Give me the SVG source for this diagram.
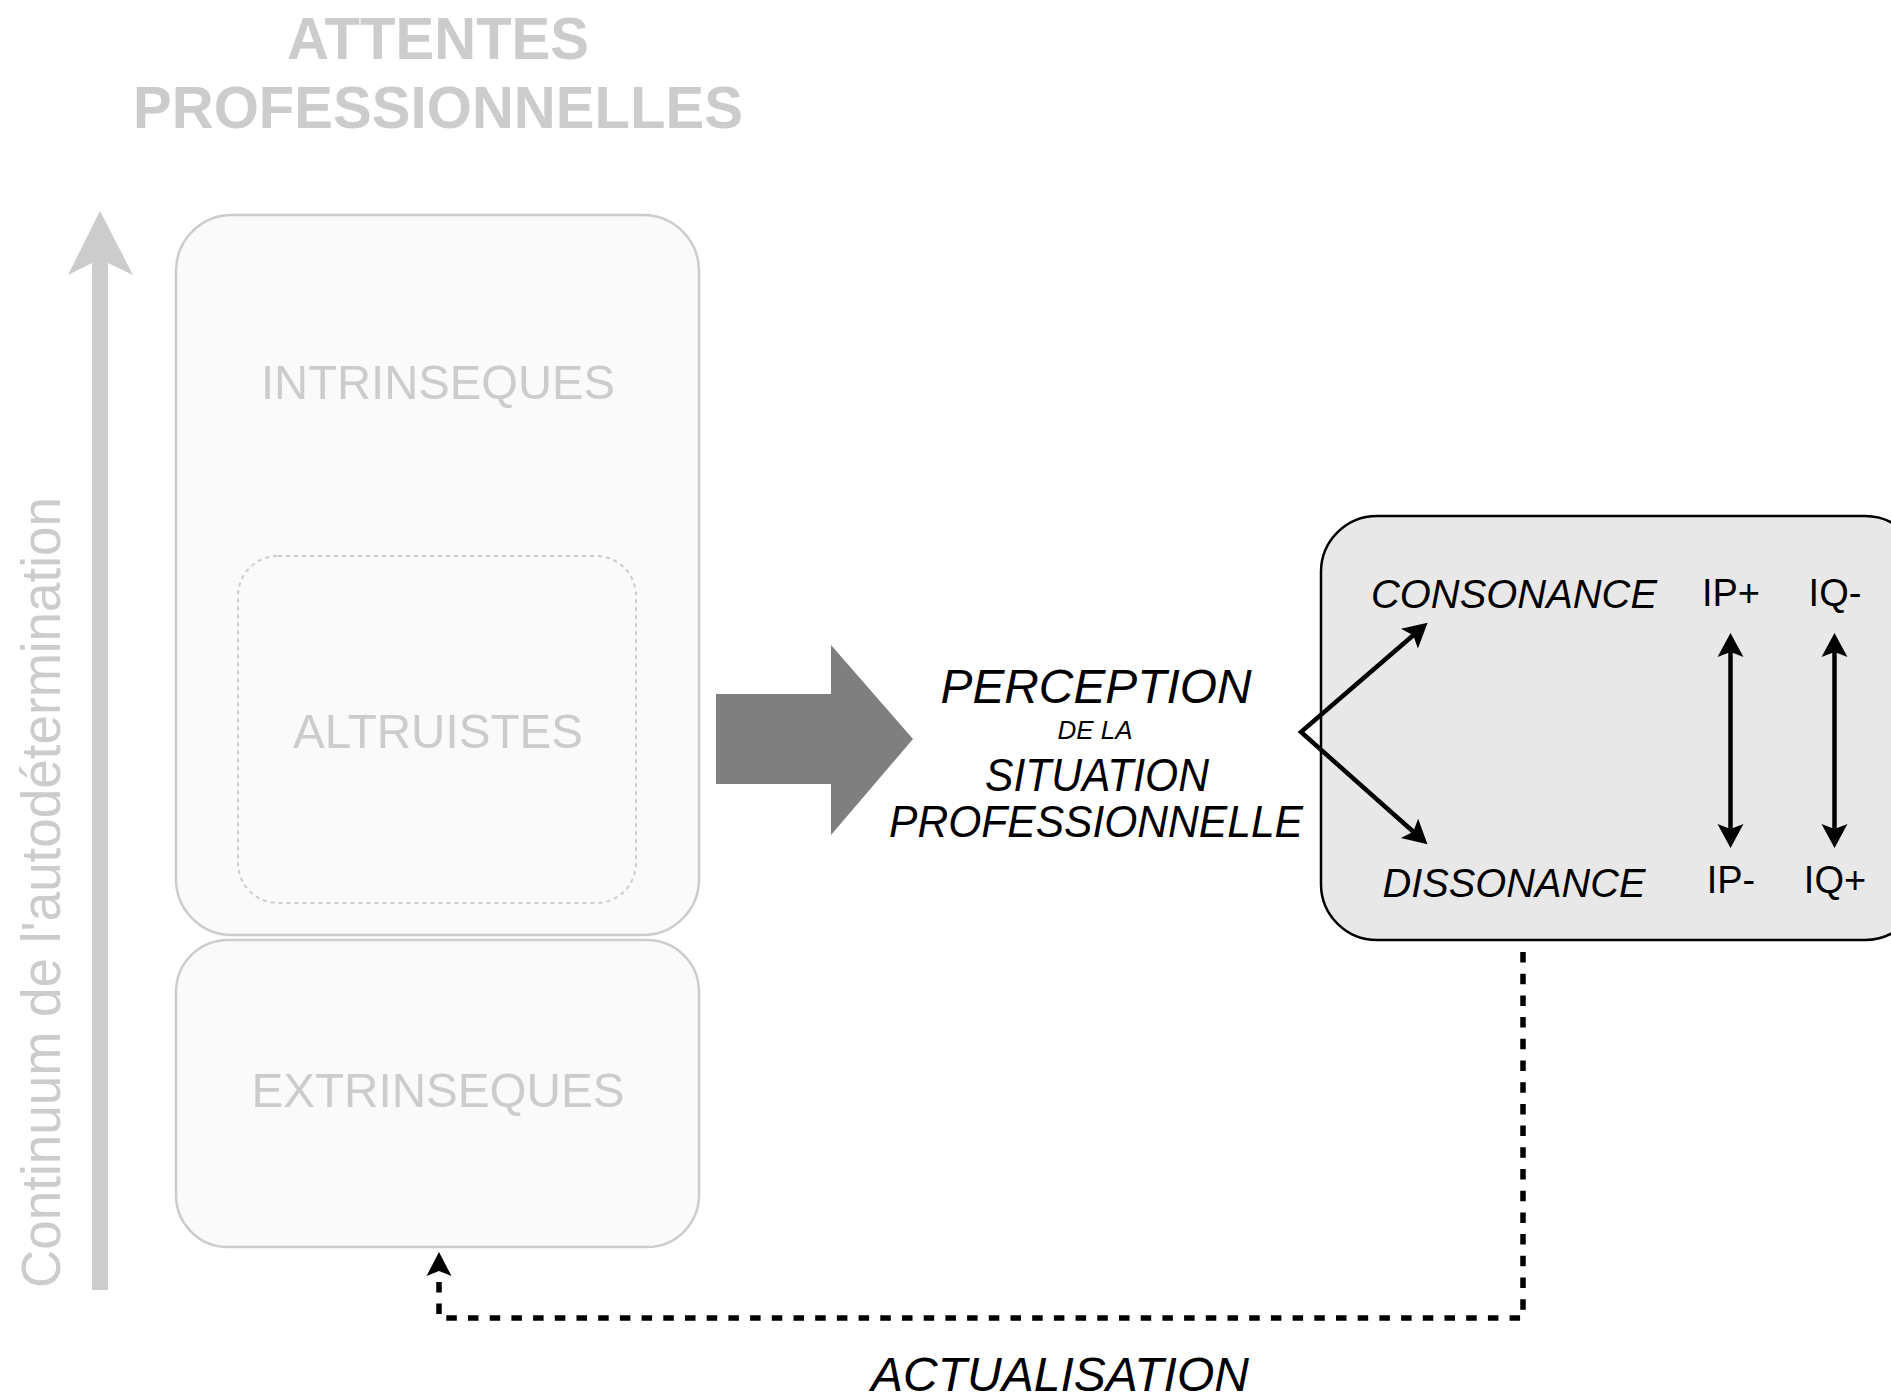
<svg xmlns="http://www.w3.org/2000/svg" width="1891" height="1400" viewBox="0 0 1891 1400">
<style>
text{font-family:"Liberation Sans",Arial,Helvetica,sans-serif}
.ghost{fill:#cccccc}
.title{font-weight:bold;font-size:60px;text-anchor:middle}
.lbl{font-size:49px;text-anchor:middle}
.box{fill:#fafafa;stroke:#cccccc;stroke-width:2.5}
.inner{fill:none;stroke:#cccccc;stroke-width:2;stroke-dasharray:4 4}
.it{font-style:italic;fill:#000;text-anchor:middle}
.rg{fill:#000;text-anchor:middle;font-size:38px}
.conn{fill:none;stroke:#000;stroke-width:4.5}
.dash{fill:none;stroke:#000;stroke-width:5.5;stroke-dasharray:10.5 11.2}
</style>
<defs>
<marker id="ah" markerUnits="userSpaceOnUse" orient="auto-start-reverse" refX="0" refY="0" markerWidth="40" markerHeight="40" viewBox="-20 -20 40 40" overflow="visible">
<path d="M14,0 L-10,-13 L-5,0 L-10,13 Z" fill="#000"/>
</marker>
<marker id="ahd" markerUnits="userSpaceOnUse" orient="auto" refX="0" refY="0" markerWidth="40" markerHeight="40" viewBox="-20 -20 40 40" overflow="visible">
<path d="M14,0 L-10,-12.5 L-5,0 L-10,12.5 Z" fill="#000"/>
</marker>
</defs>

<g id="title">
<text class="title ghost" x="438" y="59" textLength="302" lengthAdjust="spacingAndGlyphs">ATTENTES</text>
<text class="title ghost" x="438" y="128" textLength="610" lengthAdjust="spacingAndGlyphs">PROFESSIONNELLES</text>
</g>

<g id="continuum">
<path d="M100,211 L133,275 L108,263 L108,1290 L92,1290 L92,263 L68,275 Z" fill="#cccccc"/>
<text class="ghost" font-size="55" transform="translate(60,1288) rotate(-90)" textLength="791" lengthAdjust="spacingAndGlyphs">Continuum de l'autodétermination</text>
</g>

<g id="intrinseques">
<rect class="box" x="176" y="215" width="523" height="720" rx="56" ry="56"/>
<text class="lbl ghost" x="438" y="399" textLength="354" lengthAdjust="spacingAndGlyphs">INTRINSEQUES</text>
</g>

<g id="altruistes">
<rect class="inner" x="238" y="556" width="398" height="347" rx="40" ry="40"/>
<text class="lbl ghost" x="438" y="748" textLength="290" lengthAdjust="spacingAndGlyphs">ALTRUISTES</text>
</g>

<g id="extrinseques">
<rect class="box" x="176" y="940" width="523" height="307" rx="52" ry="52"/>
<text class="lbl ghost" x="438" y="1107" textLength="373" lengthAdjust="spacingAndGlyphs">EXTRINSEQUES</text>
</g>

<g id="big-arrow">
<path d="M716,694 L831,694 L831,645 L913,739 L831,835 L831,784 L716,784 Z" fill="#7f7f7f"/>
</g>

<g id="perception">
<text class="it" x="1096" y="703" font-size="48" textLength="311" lengthAdjust="spacingAndGlyphs">PERCEPTION</text>
<text class="it" x="1095" y="739" font-size="25" textLength="75" lengthAdjust="spacingAndGlyphs">DE LA</text>
<text class="it" x="1097" y="791" font-size="47" textLength="224" lengthAdjust="spacingAndGlyphs">SITUATION</text>
<text class="it" x="1096" y="837" font-size="45" textLength="414" lengthAdjust="spacingAndGlyphs">PROFESSIONNELLE</text>
</g>

<g id="resultat">
<rect x="1321" y="516" width="600" height="424" rx="56" ry="56" fill="#e8e8e8" stroke="#000" stroke-width="2.5"/>
<text class="it" x="1514" y="608" font-size="40" textLength="286" lengthAdjust="spacingAndGlyphs">CONSONANCE</text>
<text class="it" x="1514" y="897" font-size="40" textLength="263" lengthAdjust="spacingAndGlyphs">DISSONANCE</text>
<text class="rg" x="1731" y="606">IP+</text>
<text class="rg" x="1835" y="606">IQ-</text>
<text class="rg" x="1731" y="893">IP-</text>
<text class="rg" x="1835" y="893">IQ+</text>
</g>

<g id="connectors">
<path class="conn" d="M1417,632 L1301,732 L1417,835" stroke-linejoin="miter" marker-start="url(#ah)" marker-end="url(#ah)"/>
<line class="conn" x1="1730.5" y1="647" x2="1730.5" y2="834" marker-start="url(#ah)" marker-end="url(#ah)"/>
<line class="conn" x1="1834.5" y1="647" x2="1834.5" y2="834" marker-start="url(#ah)" marker-end="url(#ah)"/>
<path class="dash" d="M1523,952 L1523,1318 L439,1318 L439,1266" marker-end="url(#ahd)"/>
<text class="it" x="1060" y="1391" font-size="48" textLength="378" lengthAdjust="spacingAndGlyphs">ACTUALISATION</text>
</g>
</svg>
